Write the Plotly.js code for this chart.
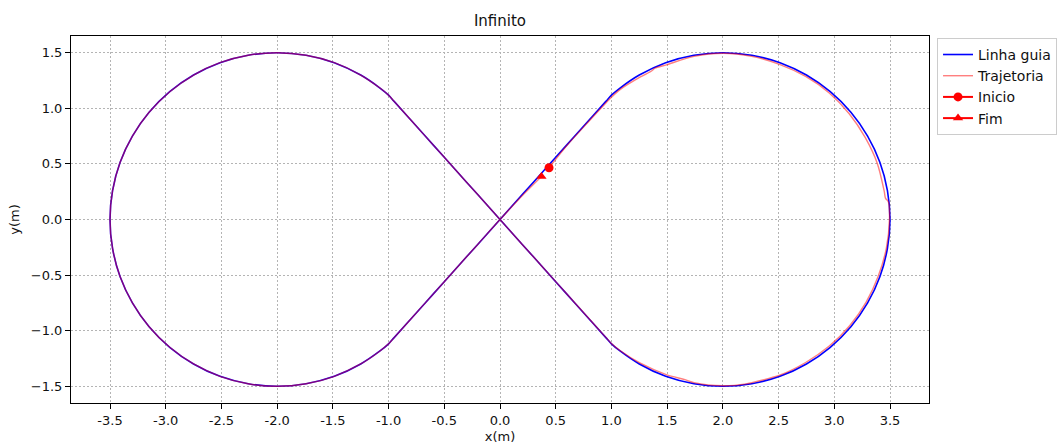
<!DOCTYPE html>
<html>
<head>
<meta charset="utf-8">
<script src="https://cdn.plot.ly/plotly-3.0.1.min.js"></script>
<style>
  html, body { margin: 0; padding: 0; background: #fff; }
  #plot { width: 1057px; height: 446px; }
</style>
</head>
<body>
<div id="plot"></div>
<script>
// Guide path (figure-eight): straight crossing through the origin joined to two circular arcs
const guideX = [0, 0.200, 0.400, 0.600, 0.800, 0.950, 1.000, 1.077, 1.250, 1.487, 1.740, 2.000, 2.260, 2.513, 2.750, 2.964, 3.149, 3.299, 3.410, 3.477, 3.500,
  3.477, 3.410, 3.299, 3.149, 2.964, 2.750, 2.513, 2.260, 2.000, 1.740, 1.487, 1.250, 1.077, 1.000,
  0.950, 0.800, 0.600, 0.400, 0.200, 0, -0.200, -0.400, -0.600, -0.800, -0.950,
  -1.000, -1.077, -1.250, -1.487, -1.740, -2.000, -2.260, -2.513, -2.750, -2.964, -3.149, -3.299, -3.410, -3.477, -3.500,
  -3.477, -3.410, -3.299, -3.149, -2.964, -2.750, -2.513, -2.260, -2.000, -1.740, -1.487, -1.250, -1.077, -1.000,
  -0.950, -0.800, -0.600, -0.400, -0.200, 0];
const guideY = [0, 0.224, 0.447, 0.671, 0.894, 1.062, 1.118, 1.182, 1.299, 1.410, 1.477, 1.500, 1.477, 1.410, 1.299, 1.149, 0.964, 0.750, 0.513, 0.260, 0.000,
  -0.260, -0.513, -0.750, -0.964, -1.149, -1.299, -1.410, -1.477, -1.500, -1.477, -1.410, -1.299, -1.182, -1.118,
  -1.062, -0.894, -0.671, -0.447, -0.224, 0, 0.224, 0.447, 0.671, 0.894, 1.062,
  1.118, 1.182, 1.299, 1.410, 1.477, 1.500, 1.477, 1.410, 1.299, 1.149, 0.964, 0.750, 0.513, 0.260, 0.000,
  -0.260, -0.513, -0.750, -0.964, -1.149, -1.299, -1.410, -1.477, -1.500, -1.477, -1.410, -1.299, -1.182, -1.118,
  -1.062, -0.894, -0.671, -0.447, -0.224, 0];

// Recorded robot trajectory
const trajX = [0.440, 0.600, 0.800, 0.950, 1.000, 1.077, 1.260, 1.360, 1.390, 1.494, 1.741, 2.000, 2.259, 2.508, 2.743, 2.955, 3.134,
  3.277, 3.386, 3.448, 3.460, 3.485, 3.495, 3.467, 3.395, 3.286, 3.138, 2.955, 2.743, 2.510, 2.259, 2.210, 2.000,
  1.741, 1.660, 1.492, 1.255, 1.077, 1.000,
  0.950, 0.800, 0.600, 0.400, 0.200, 0, -0.200, -0.400, -0.600, -0.800, -0.950,
  -1.000, -1.077, -1.250, -1.487, -1.740, -2.000, -2.260, -2.513, -2.750, -2.964, -3.149, -3.299, -3.410, -3.477, -3.500,
  -3.477, -3.410, -3.299, -3.149, -2.964, -2.750, -2.513, -2.260, -2.000, -1.740, -1.487, -1.250, -1.077, -1.000,
  -0.950, -0.800, -0.600, -0.400, -0.200, 0, 0.190, 0.372];
const trajY = [0.465, 0.665, 0.885, 1.048, 1.100, 1.168, 1.282, 1.335, 1.360, 1.391, 1.467, 1.495, 1.467, 1.395, 1.286, 1.138, 0.951,
  0.738, 0.504, 0.255, 0.190, 0.160, 0.000, -0.259, -0.508, -0.743, -0.955, -1.138, -1.286, -1.400, -1.467, -1.478, -1.495,
  -1.467, -1.440, -1.395, -1.290, -1.178, -1.115,
  -1.060, -0.892, -0.670, -0.447, -0.224, 0, 0.224, 0.447, 0.671, 0.894, 1.062,
  1.118, 1.182, 1.299, 1.410, 1.477, 1.500, 1.477, 1.410, 1.299, 1.149, 0.964, 0.750, 0.513, 0.260, 0.000,
  -0.260, -0.513, -0.750, -0.964, -1.149, -1.299, -1.410, -1.477, -1.500, -1.477, -1.410, -1.299, -1.182, -1.118,
  -1.062, -0.894, -0.671, -0.447, -0.224, 0, 0.205, 0.387];

const startPoint = [0.440, 0.465];
const endPoint = [0.372, 0.387];

const xTickVals = [-3.5, -3.0, -2.5, -2.0, -1.5, -1.0, -0.5, 0.0, 0.5, 1.0, 1.5, 2.0, 2.5, 3.0, 3.5];
const xTickText = ['-3.5', '-3.0', '-2.5', '-2.0', '-1.5', '-1.0', '-0.5', '0.0', '0.5', '1.0', '1.5', '2.0', '2.5', '3.0', '3.5'];
const yTickVals = [-1.5, -1.0, -0.5, 0.0, 0.5, 1.0, 1.5];

const FONT = 'DejaVu Sans, sans-serif';

const traces = [
  {
    name: 'Linha guia', x: guideX, y: guideY, mode: 'lines', type: 'scatter',
    line: { color: '#0000ff', width: 1.6, shape: 'spline', smoothing: 1 }
  },
  {
    name: 'Trajetoria', x: trajX, y: trajY, mode: 'lines', type: 'scatter',
    line: { color: 'rgba(255,0,0,0.5)', width: 1.4, shape: 'spline', smoothing: 0.8 }
  },
  {
    name: 'Inicio', x: [startPoint[0]], y: [startPoint[1]], mode: 'lines+markers', type: 'scatter',
    line: { color: '#ff0000', width: 2 },
    marker: { color: '#ff0000', size: 9, symbol: 'circle' }
  },
  {
    name: 'Fim', x: [endPoint[0]], y: [endPoint[1]], mode: 'lines+markers', type: 'scatter',
    line: { color: '#ff0000', width: 2 },
    marker: { color: '#ff0000', size: 9, symbol: 'triangle-up' }
  }
];

const axisCommon = {
  showline: true, mirror: true, linecolor: '#000', linewidth: 1,
  ticks: 'outside', ticklen: 5, tickwidth: 1, tickcolor: '#000',
  showgrid: true, gridcolor: '#b4b4b4', gridwidth: 1, griddash: '2px,2px',
  zeroline: false,
  tickfont: { family: FONT, size: 13, color: '#111' }
};

const layout = {
  width: 1057, height: 446,
  margin: { l: 71, r: 128, t: 36, b: 43 },
  paper_bgcolor: '#fff', plot_bgcolor: '#fff',
  font: { family: FONT, color: '#111' },
  title: {
    text: 'Infinito', font: { family: FONT, size: 15, color: '#111' },
    x: 0.5, xref: 'paper', y: 0.953, yref: 'container', yanchor: 'middle'
  },
  xaxis: Object.assign({}, axisCommon, {
    range: [-3.85, 3.85], tickmode: 'array', tickvals: xTickVals, ticktext: xTickText,
    title: { text: 'x(m)', font: { family: FONT, size: 13, color: '#111' }, standoff: 5 }
  }),
  yaxis: Object.assign({}, axisCommon, {
    range: [-1.65, 1.65], tickmode: 'array', tickvals: yTickVals, tickformat: '.1f',
    title: { text: 'y(m)', font: { family: FONT, size: 13, color: '#111' }, standoff: 8 }
  }),
  showlegend: true,
  legend: {
    xref: 'container', yref: 'container',
    x: 0.8865, xanchor: 'left', y: 0.915, yanchor: 'top',
    bgcolor: '#fff', bordercolor: '#cccccc', borderwidth: 1,
    font: { family: FONT, size: 14, color: '#111' },
    itemwidth: 30, tracegroupgap: 0
  }
};

Plotly.newPlot('plot', traces, layout, { displayModeBar: false, staticPlot: true });
</script>
</body>
</html>
